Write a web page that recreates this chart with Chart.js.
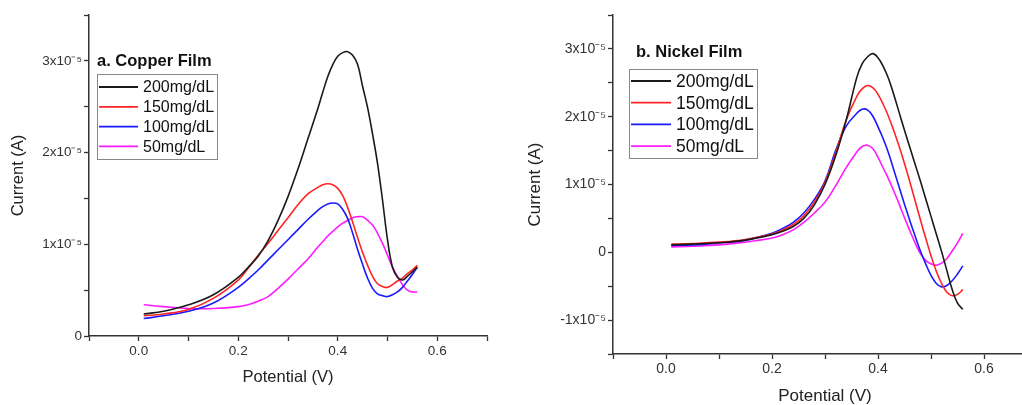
<!DOCTYPE html>
<html>
<head>
<meta charset="utf-8">
<script src="https://cdn.jsdelivr.net/npm/chart.js@4.4.1/dist/chart.umd.min.js"></script>
<style>
  html, body { margin: 0; padding: 0; background: #fff; overflow: hidden; width: 1022px; height: 405px; }
  #left { position: absolute; left: 0; top: 0; }
  #right { position: absolute; left: 510px; top: 0; }
</style>
</head>
<body>
<div id="left"><canvas id="copper" width="510" height="405"></canvas></div>
<div id="right"><canvas id="nickel" width="540" height="405"></canvas></div>
<script>
// potential grid (V), shared by all curves
const potential = [0.01, 0.05, 0.10, 0.15, 0.20, 0.22, 0.24, 0.26, 0.28, 0.30, 0.32, 0.34, 0.36, 0.37, 0.38, 0.39, 0.40,
  0.41, 0.42, 0.43, 0.44, 0.45, 0.46, 0.47, 0.48, 0.49, 0.50, 0.51, 0.52, 0.53, 0.54, 0.55, 0.56];

const labels = ['200mg/dL', '150mg/dL', '100mg/dL', '50mg/dL'];
const colors = ['#1a1a1a', '#ff2424', '#1a1aff', '#ff1aff'];

// current in units of 1e-5 A
// a. Copper film
const cu200 = [0.24, 0.27, 0.34, 0.45, 0.64, 0.75, 0.87, 1.04, 1.26, 1.52, 1.82, 2.15, 2.48, 2.66, 2.83, 2.96, 3.05,
  3.09, 3.10, 3.06, 2.96, 2.72, 2.49, 2.20, 1.88, 1.48, 1.05, 0.75, 0.64, 0.61, 0.65, 0.70, 0.75];
const cu150 = [0.22, 0.24, 0.29, 0.41, 0.61, 0.74, 0.88, 1.01, 1.15, 1.29, 1.43, 1.55, 1.62, 1.65, 1.66, 1.65, 1.61,
  1.53, 1.40, 1.24, 1.07, 0.91, 0.77, 0.65, 0.57, 0.54, 0.53, 0.56, 0.60, 0.63, 0.68, 0.72, 0.77];
const cu100 = [0.19, 0.22, 0.27, 0.36, 0.53, 0.62, 0.72, 0.83, 0.94, 1.05, 1.16, 1.27, 1.37, 1.41, 1.44, 1.45, 1.44,
  1.38, 1.28, 1.12, 0.94, 0.78, 0.63, 0.52, 0.46, 0.44, 0.43, 0.45, 0.48, 0.53, 0.60, 0.67, 0.75];
const cu50 = [0.34, 0.32, 0.30, 0.30, 0.32, 0.34, 0.38, 0.43, 0.52, 0.62, 0.73, 0.84, 0.97, 1.03, 1.09, 1.14, 1.19,
  1.23, 1.26, 1.29, 1.30, 1.30, 1.26, 1.21, 1.12, 1.01, 0.88, 0.75, 0.65, 0.56, 0.50, 0.48, 0.48];

// b. Nickel film
const ni200 = [0.11, 0.12, 0.14, 0.18, 0.26, 0.31, 0.38, 0.50, 0.70, 1.00, 1.42, 1.95, 2.58, 2.78, 2.88, 2.93, 2.87,
  2.74, 2.56, 2.32, 2.06, 1.80, 1.55, 1.30, 1.05, 0.79, 0.53, 0.27, 0.01, -0.27, -0.55, -0.75, -0.84];
const ni150 = [0.12, 0.13, 0.15, 0.19, 0.27, 0.33, 0.41, 0.54, 0.74, 1.03, 1.46, 1.95, 2.30, 2.41, 2.46, 2.43, 2.33,
  2.18, 2.00, 1.79, 1.56, 1.31, 1.04, 0.76, 0.48, 0.21, -0.05, -0.28, -0.46, -0.59, -0.64, -0.62, -0.55];
const ni100 = [0.10, 0.11, 0.14, 0.18, 0.28, 0.35, 0.44, 0.58, 0.78, 1.05, 1.50, 1.86, 2.05, 2.11, 2.10, 2.01, 1.85,
  1.67, 1.46, 1.21, 0.96, 0.71, 0.47, 0.24, 0.02, -0.17, -0.34, -0.46, -0.51, -0.49, -0.42, -0.32, -0.20];
const ni50 = [0.08, 0.09, 0.11, 0.15, 0.21, 0.26, 0.33, 0.44, 0.58, 0.74, 0.98, 1.25, 1.48, 1.56, 1.58, 1.53, 1.40,
  1.24, 1.08, 0.90, 0.71, 0.51, 0.32, 0.14, -0.02, -0.12, -0.17, -0.19, -0.16, -0.09, 0.02, 0.14, 0.28];

const xTicks = [-0.1, 0.0, 0.1, 0.2, 0.3, 0.4, 0.5, 0.6, 0.7];
const xTickLabels = ['', '0.0', '', '0.2', '', '0.4', '', '0.6', ''];

function toPoints(ys) {
  return ys.map((y, i) => ({ x: potential[i], y: y }));
}

function yLabel(v) {
  const n = Math.round(v * 10) / 10;
  if (n % 1 !== 0) return '';
  if (n === 0) return '0';
  return n + 'x10\u207B\u2075';
}

// draws panel title and framed legend inside the plot
const panelLegend = {
  id: 'panelLegend',
  afterDraw(chart, args, o) {
    const ctx = chart.ctx;
    ctx.save();
    ctx.fillStyle = '#111';
    ctx.textBaseline = 'middle';
    ctx.textAlign = 'left';
    ctx.font = 'bold 16.5px "Liberation Sans", Arial, sans-serif';
    ctx.fillText(o.title, o.titleX, o.titleY);
    ctx.strokeStyle = '#888';
    ctx.lineWidth = 1;
    ctx.strokeRect(o.box[0] + 0.5, o.box[1] + 0.5, o.box[2], o.box[3]);
    ctx.font = o.fontSize + 'px "Liberation Sans", Arial, sans-serif';
    chart.data.datasets.forEach((ds, i) => {
      const y = o.rowY + i * o.rowGap;
      ctx.strokeStyle = ds.borderColor;
      ctx.lineWidth = 1.8;
      ctx.beginPath();
      ctx.moveTo(o.box[0] + 2, y);
      ctx.lineTo(o.box[0] + 2 + o.lineLen, y);
      ctx.stroke();
      ctx.fillStyle = '#111';
      ctx.fillText(ds.label, o.box[0] + o.lineLen + 7, y + 1);
    });
    ctx.restore();
  }
};

function makeChart(id, series, cfg) {
  const ctx = document.getElementById(id).getContext('2d');
  return new Chart(ctx, {
    type: 'line',
    data: {
      datasets: series.map((s, i) => ({
        label: labels[i],
        data: toPoints(s),
        borderColor: colors[i],
        borderWidth: 1.6,
        pointRadius: 0,
        tension: 0.4,
        fill: false
      }))
    },
    options: {
      responsive: false,
      animation: false,
      layout: { padding: cfg.padding },
      plugins: {
        legend: { display: false },
        tooltip: { enabled: false },
        panelLegend: cfg.legend
      },
      scales: {
        x: {
          type: 'linear',
          min: -0.1,
          max: 0.7,
          afterFit: s => { s.height = cfg.xHeight; },
          afterBuildTicks: s => { s.ticks = xTicks.map(v => ({ value: v })); },
          ticks: {
            autoSkip: false,
            maxRotation: 0,
            padding: 2,
            color: '#333',
            font: { size: cfg.tickSize, family: '"Liberation Sans", Arial, sans-serif' },
            callback: (v, i) => xTickLabels[i]
          },
          grid: { drawOnChartArea: false, tickLength: 5, color: '#333', tickWidth: 1.3 },
          border: { color: '#333', width: 1.5 },
          title: {
            display: true,
            text: 'Potential (V)',
            color: '#222',
            padding: { top: 0, bottom: cfg.xTitlePad },
            font: { size: cfg.titleSize, lineHeight: 1, family: '"Liberation Sans", Arial, sans-serif' }
          }
        },
        y: {
          min: cfg.yMin,
          max: 3.5,
          afterFit: s => { s.width = cfg.yWidth; },
          ticks: {
            stepSize: 0.5,
            autoSkip: false,
            padding: 2,
            color: '#333',
            font: { size: cfg.tickSize, family: '"Liberation Sans", Arial, sans-serif' },
            callback: v => yLabel(v)
          },
          grid: { drawOnChartArea: false, tickLength: 5, color: '#333', tickWidth: 1.3 },
          border: { color: '#333', width: 1.5 },
          title: {
            display: true,
            text: 'Current (A)',
            color: '#222',
            padding: { top: cfg.yTitlePad, bottom: 0 },
            font: { size: cfg.titleSize, lineHeight: 1, family: '"Liberation Sans", Arial, sans-serif' }
          }
        }
      }
    },
    plugins: [panelLegend]
  });
}

makeChart('copper', [cu200, cu150, cu100, cu50], {
  padding: { left: 0, top: 15, right: 23, bottom: 0 },
  xHeight: 69, yWidth: 89, yMin: 0,
  tickSize: 13.5, titleSize: 16.5, xTitlePad: 19, yTitlePad: 10,
  legend: {
    title: 'a. Copper Film', titleX: 97, titleY: 61,
    box: [97, 74, 120, 85], rowY: 87, rowGap: 19.8, fontSize: 16, lineLen: 39
  }
});

makeChart('nickel', [ni200, ni150, ni100, ni50], {
  padding: { left: 0, top: 15, right: 13, bottom: 0 },
  xHeight: 51, yWidth: 103, yMin: -1.5,
  tickSize: 14, titleSize: 17, xTitlePad: 0, yTitlePad: 16.5,
  legend: {
    title: 'b. Nickel Film', titleX: 126, titleY: 52,
    box: [119, 69, 128, 89], rowY: 81, rowGap: 21.7, fontSize: 17.5, lineLen: 40
  }
});
</script>
</body>
</html>
